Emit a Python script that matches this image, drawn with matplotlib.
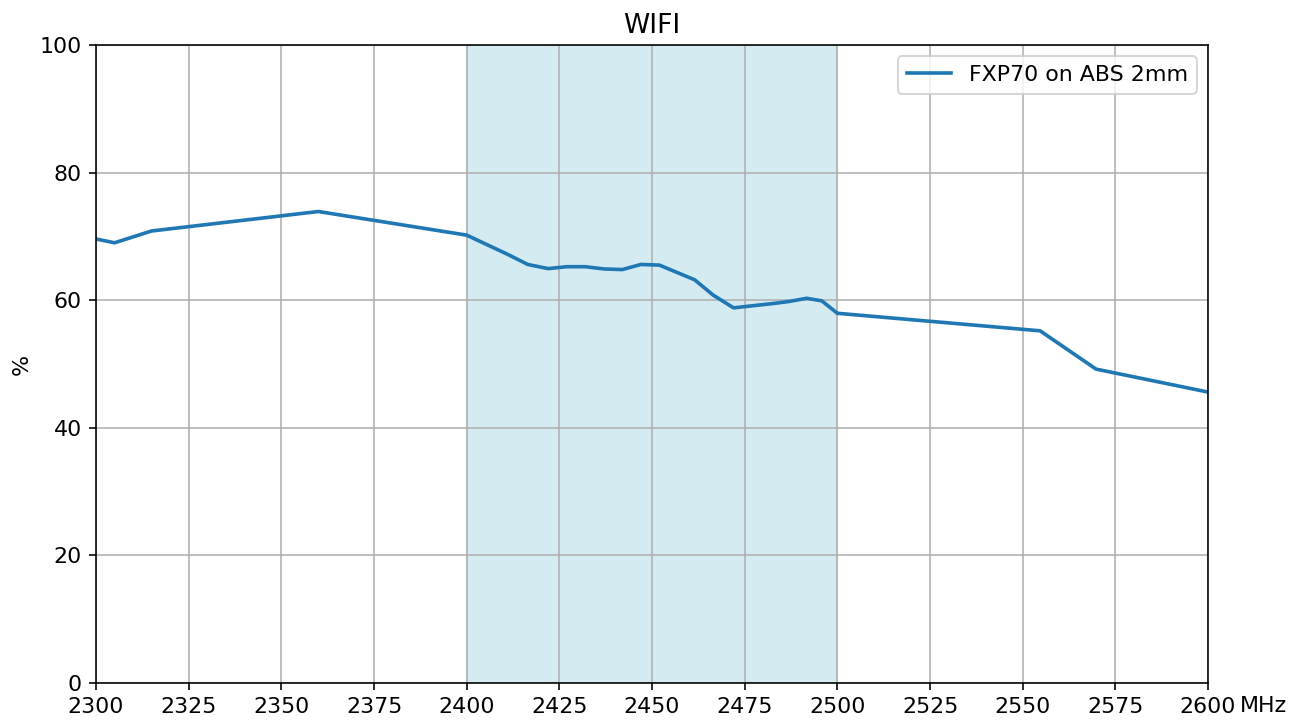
import matplotlib.pyplot as plt
import numpy as np

freq_mhz = [2300, 2305, 2315, 2360, 2400, 2411, 2416.5, 2422, 2427, 2432, 2437, 2442,
            2447, 2452, 2461.5, 2466.5, 2472, 2483, 2487, 2491.7, 2495.8, 2500,
            2554.7, 2569.8, 2600]
efficiency = [69.6, 69.0, 70.85, 73.9, 70.2, 67.2, 65.6, 64.95, 65.25, 65.25, 64.9, 64.8,
              65.6, 65.5, 63.2, 60.8, 58.8, 59.5, 59.8, 60.3, 59.9, 57.95,
              55.2, 49.2, 45.6]
label = 'FXP70 on ABS 2mm'
band = (2400, 2500)

plt.rcParams['font.size'] = 11

fig = plt.figure(figsize=(9, 720 / 145), dpi=145)
ax = fig.add_axes([96 / 1305, 1 - 683 / 720, (1208 - 96) / 1305, (683 - 45) / 720])

ax.axvspan(band[0], band[1], color='lightblue', alpha=0.5)
ax.plot(freq_mhz, efficiency, label=label, lw=1.8)

ax.set_xlim(2300, 2600)
ax.set_ylim(0, 100)
ax.set_xticks(np.arange(2300, 2601, 25))
ax.set_yticks(np.arange(0, 101, 20))
ax.grid(True)
ax.set_title('WIFI')
ax.set_ylabel('%')
ax.annotate('MHz', xy=(1, 0), xycoords='axes fraction', xytext=(16, -11.5),
            textcoords='offset points', ha='left', va='center')
ax.legend(loc='upper right')

fig.savefig('out.png', dpi=145)
